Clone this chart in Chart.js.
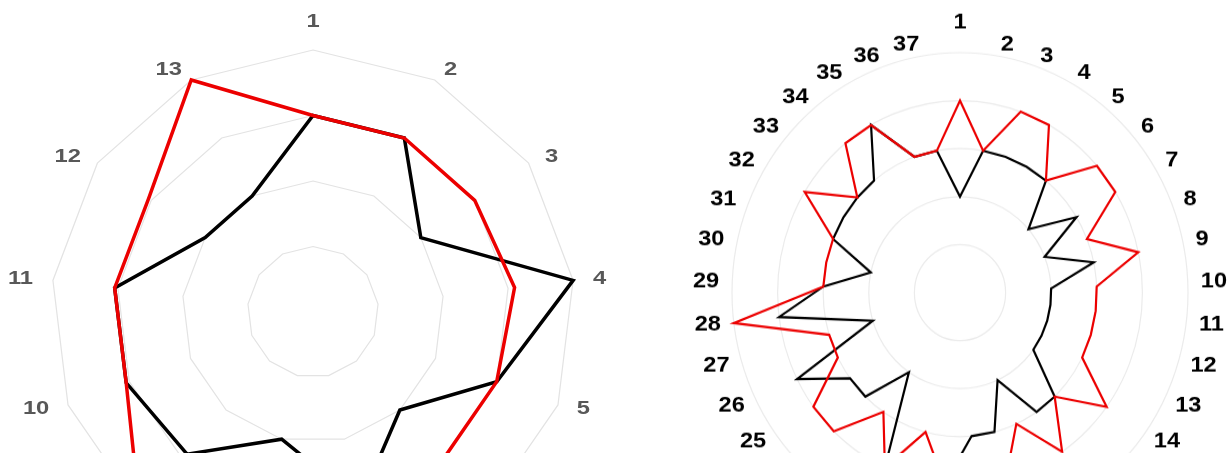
<!DOCTYPE html>
<html>
<head>
<meta charset="utf-8">
<title>Radar</title>
<script src="https://cdn.jsdelivr.net/npm/chart.js@4.4.1/dist/chart.umd.min.js"></script>
<style>
    html, body { margin: 0; padding: 0; background: #fff; }
    #wrap { position: relative; width: 1228px; height: 453px; overflow: hidden; }
    #leftChart { position: absolute; left: 0; top: 0; }
    /* el gráfico derecho está algo estirado en vertical en la imagen original */
    #rightChart { position: absolute; left: 614px; top: 0; transform: scaleY(1.0526); transform-origin: 0 0; }
</style>
</head>
<body>
<div id="wrap">
    <canvas id="leftChart" width="614" height="640"></canvas>
    <canvas id="rightChart" width="614" height="640"></canvas>
</div>
<script>
// Datos del radar izquierdo (13 ejes)
const leftLabels = ['1', '2', '3', '4', '5', '6', '7', '8', '9', '10', '11', '12', '13'];
const leftRed = [3, 3, 3, 3.1, 3, 3, 3, 3, 4, 3.05, 3.05, 3.05, 4];
const leftBlack = [3, 3, 2, 4, 3, 2, 3, 2, 2.9, 3.05, 3.05, 2, 2];

// Datos del radar derecho (37 ejes)
const rightLabels = ['1', '2', '3', '4', '5', '6', '7', '8', '9', '10', '11', '12', '13', '14', '15', '16', '17', '18', '19',
    '20', '21', '22', '23', '24', '25', '26', '27', '28', '29', '30', '31', '32', '33', '34', '35', '36', '37'];
const rightRed = [4, 3, 4, 4, 3, 4, 4, 3, 4, 3, 3, 3, 3, 4, 3, 4, 3, 4, 4,
    4, 3, 4, 3, 4, 4, 3, 3, 5, 3, 3, 3, 4, 3, 4, 4, 3, 3];
const rightBlack = [2, 3, 3, 3, 3, 2, 3, 2, 3, 2, 2, 2, 2, 2, 3, 3, 2, 3, 3,
    4, 4, 4, 2, 3, 3, 4, 2, 4, 3, 2, 3, 3, 3, 3, 4, 3, 3];

const leftMax = 4;
const rightMax = 5;

/**
 * Etiquetas de los ejes: alineadas por el borde en horizontal,
 * centradas en vertical (como en la imagen original)
 */
const axisLabelPlugin = {
    id: 'axisLabels',
    afterDraw(chart, args, opts) {
        const scale = chart.scales.r;
        const ctx = chart.ctx;
        const n = chart.data.labels.length;
        ctx.save();
        ctx.font = opts.font;
        ctx.fillStyle = opts.color;
        ctx.textBaseline = 'middle';
        chart.data.labels.forEach((label, i) => {
            const a = i * 2 * Math.PI / n;
            const sin = Math.sin(a);
            const cos = Math.cos(a);
            const px = scale.getPointPosition(i, scale.drawingArea + opts.offsetX);
            const py = scale.getPointPosition(i, scale.drawingArea + opts.offsetY);
            let x = px.x;
            let y = py.y;
            let align = sin > 0.01 ? 'left' : (sin < -0.01 ? 'right' : 'center');
            if (align === 'center' && cos > 0) y -= opts.topExtra;
            ctx.save();
            ctx.translate(x, y);
            ctx.scale(opts.stretch, 1);
            ctx.textAlign = align;
            ctx.fillText(label, 0, 0);
            ctx.restore();
        });
        ctx.restore();
    },
};

function buildRadar(canvasId, labels, red, black, max, cfg) {
    return new Chart(document.getElementById(canvasId), {
        type: 'radar',
        data: {
            labels: labels,
            datasets: [
                {
                    data: red,
                    borderColor: '#ec0000',
                    borderWidth: cfg.lineWidth,
                    fill: false,
                    pointRadius: 0,
                    tension: 0,
                },
                {
                    data: black,
                    borderColor: '#000000',
                    borderWidth: cfg.lineWidth,
                    fill: false,
                    pointRadius: 0,
                    tension: 0,
                },
            ],
        },
        options: {
            responsive: false,
            animation: false,
            devicePixelRatio: 1,
            layout: { padding: cfg.padding },
            plugins: {
                legend: { display: false },
                tooltip: { enabled: false },
                axisLabels: cfg.labels,
            },
            scales: {
                r: {
                    min: 0,
                    max: max,
                    ticks: { display: false, stepSize: 1 },
                    pointLabels: { display: false },
                    angleLines: { display: false },
                    grid: {
                        circular: cfg.circular,
                        color: cfg.gridColor,
                        lineWidth: 1.2,
                    },
                },
            },
        },
        plugins: [axisLabelPlugin],
    });
}

buildRadar('leftChart', leftLabels, leftRed, leftBlack, leftMax, {
    lineWidth: 3.5,
    circular: false,
    gridColor: '#e3e3e3',
    padding: { left: 51, right: 39, top: 50, bottom: 66 },
    labels: {
        font: 'bold 19px "Liberation Sans", Arial, sans-serif',
        color: '#585858',
        offsetX: 20,
        offsetY: 12,
        topExtra: 16,
        stretch: 1.25,
    },
});

buildRadar('rightChart', rightLabels, rightRed, rightBlack, rightMax, {
    lineWidth: 2.2,
    circular: true,
    gridColor: '#ebebeb',
    padding: { left: 118, right: 40, top: 50, bottom: 134 },
    labels: {
        font: 'bold 20px "Liberation Sans", Arial, sans-serif',
        color: '#000000',
        offsetX: 13,
        offsetY: 10.5,
        topExtra: 18,
        stretch: 1.18,
    },
});
</script>
</body>
</html>
